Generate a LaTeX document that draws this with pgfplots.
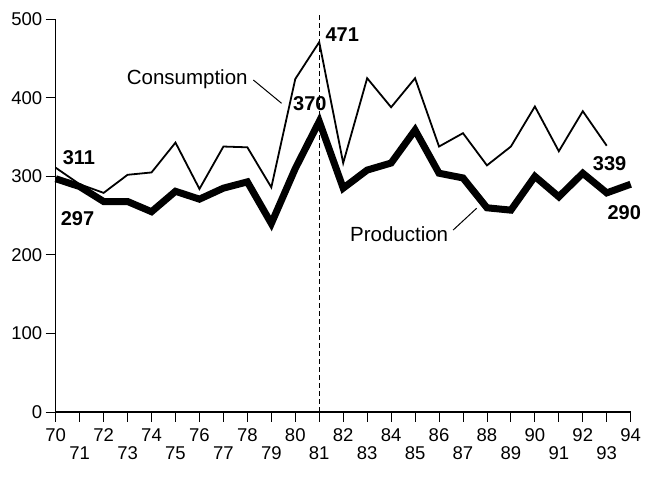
\documentclass[border=0pt]{standalone}
\usepackage{pgfplots}
\pgfplotsset{compat=1.18}
\usepackage{fontspec}
\setmainfont{Liberation Sans}
\begin{document}
\begin{tikzpicture}
\begin{axis}[
  name=ax,
  scale only axis,
  width=575pt, height=392.7pt,
  xmin=70, xmax=94, ymin=0, ymax=500,
  axis x line*=bottom, axis y line*=left,
  axis line style={line width=1.1pt},
  tick align=outside,
  major tick length=10pt,
  tick style={line width=0.9pt, black},
  xtick={70,72,...,94},
  extra x ticks={71,73,...,93},
  xticklabel style={yshift=-3pt},
  extra x tick style={tick label style={yshift=-18pt}},
  ytick={0,100,...,500},
  /pgf/number format/assume math mode=true,
  tick label style={font=\fontsize{18.5}{20}\selectfont},
  clip=false,
]
\addplot[black, line width=1.8pt, line join=miter] coordinates {
(70,311) (71,290) (72,279) (73,302) (74,305) (75,343) (76,284) (77,338) (78,337) (79,286) (80,424) (81,471) (82,317) (83,425) (84,388) (85,425) (86,338) (87,355) (88,314) (89,338) (90,389) (91,332) (92,383) (93,339)
};
\addplot[black, line width=7pt, line join=miter] coordinates {
(70,297) (71,287) (72,268) (73,268) (74,255) (75,281) (76,271) (77,285) (78,293) (79,240) (80,310) (81,370) (82,285) (83,308) (84,317) (85,359) (86,304) (87,298) (88,260) (89,257) (90,300) (91,274) (92,304) (93,279) (94,290)
};
\draw[black, line width=0.8pt, dash pattern=on 5pt off 3pt] (axis cs:81,0) -- (axis cs:81,506);
\draw[black, line width=1pt] (axis cs:78.25,422.7) -- (axis cs:79.43,393);
\draw[black, line width=1pt] (axis cs:86.59,231.7) -- (axis cs:87.57,259.4);
\node[font=\fontsize{20.5}{22}\selectfont, anchor=base west, inner sep=0pt] at (axis cs:72.96,417.6) {Consumption};
\node[font=\fontsize{20.5}{22}\selectfont, anchor=base west, inner sep=0pt] at (axis cs:82.28,216.8) {Production};
\node[font=\fontsize{20}{22}\selectfont\bfseries, inner sep=0pt] at (axis cs:70.97,324) {311};
\node[font=\fontsize{20}{22}\selectfont\bfseries, inner sep=0pt] at (axis cs:70.91,245.7) {297};
\node[font=\fontsize{20}{22}\selectfont\bfseries, inner sep=0pt] at (axis cs:80.61,392.2) {370};
\node[font=\fontsize{20}{22}\selectfont\bfseries, inner sep=0pt] at (axis cs:81.96,480) {471};
\node[font=\fontsize{20}{22}\selectfont\bfseries, inner sep=0pt] at (axis cs:93.12,316.6) {339};
\node[font=\fontsize{20}{22}\selectfont\bfseries, inner sep=0pt] at (axis cs:93.73,254) {290};
\end{axis}
\pgfresetboundingbox
\path ([shift={(-55.7pt,-76pt)}]ax.south west) rectangle ([shift={(23.3pt,19.3pt)}]ax.north east);
\end{tikzpicture}
\end{document}
